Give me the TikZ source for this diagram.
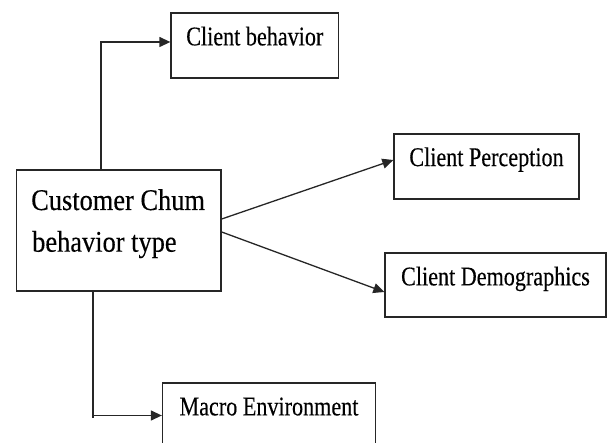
\documentclass[tikz,border=0pt]{standalone}
\usepackage{fontspec}
\usetikzlibrary{arrows.meta,calc}
\newfontfamily\boxfont[FakeStretch=0.82,FakeBold=0.3]{Liberation Serif}
\newfontfamily\mainfont[FakeStretch=0.88,FakeBold=0.3]{Liberation Serif}
\begin{document}
\begin{tikzpicture}[x=1pt,y=-1pt,
  box/.style={draw=black!85, line width=1.3pt, rectangle, inner sep=0pt},
  lbl/.style={inner sep=0pt, anchor=base, font=\boxfont\fontsize{27pt}{32pt}\selectfont},
  mlbl/.style={inner sep=0pt, anchor=base west, font=\mainfont\fontsize{30pt}{36pt}\selectfont},
  conn/.style={draw=black!85, line width=1.3pt},
  arr/.style={conn, -{Triangle[length=11pt,width=10pt]}}]
\useasboundingbox (0,0) rectangle (608,443);
% boxes
\node[box, minimum width=167.6pt, minimum height=65pt] (cb) at (254.8,45.5) {};
\node[box, minimum width=185pt, minimum height=65pt] (cp) at (486.5,166.5) {};
\node[box, minimum width=221pt, minimum height=64pt] (cd) at (495.5,285) {};
\node[box, minimum width=213pt, minimum height=65pt] (me) at (269,415.5) {};
\node[box, minimum width=204.3pt, minimum height=121pt] (main) at (118.9,230.5) {};
% texts
\node[lbl] (cbt) at ([yshift=-33pt]cb.north) {Client behavior};
\node[lbl] (cpt) at ([yshift=-32.7pt]cp.north) {Client Perception};
\node[lbl] (cdt) at ([yshift=-33pt]cd.north) {Client Demographics};
\node[lbl] (met) at ([yshift=-33pt]me.north) {Macro Environment};
\node[mlbl] (mt1) at (31,210) {Customer Chum};
\node[mlbl] (mt2) at (32,251.7) {behavior type};
% connectors
\draw[arr] ([xshift=-17.9pt]main.north) |- ([yshift=3.5pt]cb.west);
\draw[arr] ([yshift=11.5pt]main.east) -- ([yshift=6.5pt]cp.west);
\draw[arr] ([yshift=-1.5pt]main.east) -- ([yshift=-7pt]cd.west);
\coordinate (bend) at ([xshift=-25.9pt]main.south |- me.west);
\draw[conn] ([xshift=-25.9pt]main.south) -- ([yshift=-3pt]bend);
\draw[arr] (bend) -- (me.west);
\end{tikzpicture}
\end{document}
